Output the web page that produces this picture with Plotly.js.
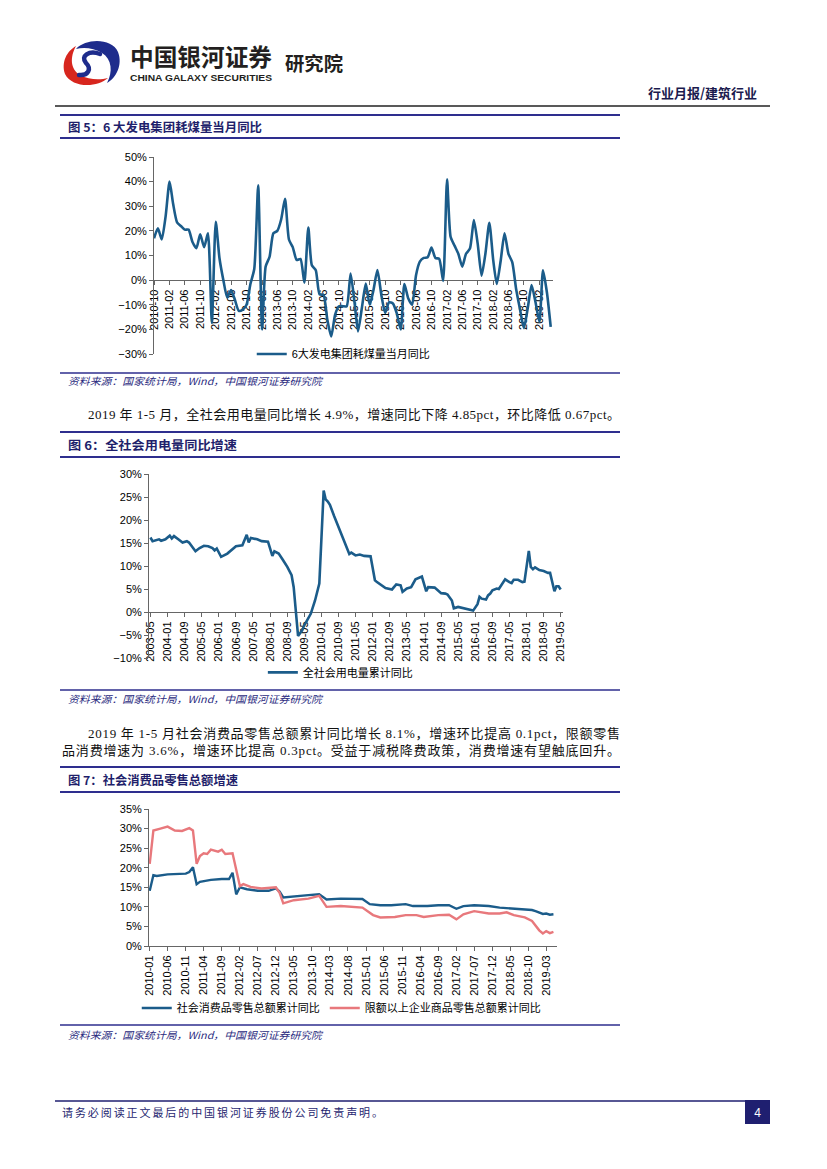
<!DOCTYPE html>
<html><head><meta charset="utf-8">
<script src="https://cdn.plot.ly/plotly-3.0.1.min.js"></script>
<style>
body{margin:0;background:#fff;}
#page{position:relative;width:827px;height:1169px;overflow:hidden;background:#fff;}
.chart{position:absolute;}
#bg{position:absolute;left:0;top:0;}
</style></head><body>
<div id="page">
<svg id="bg" width="827" height="1169" xmlns="http://www.w3.org/2000/svg">
  <!-- logo -->
  <g transform="translate(62,37)">
    <path d="M14 12 C24 1, 50 1, 56 15 C61 28, 54 41, 45 46 C51 35, 50 22, 40 16 C32 11, 22 10, 14 12 Z" fill="#1E2C8C"/>
    <path d="M46 41 C35 51, 10 51, 3 37 C-1 25, 5 14, 14 9 C8 20, 8 32, 18 38 C27 43, 38 43, 46 41 Z" fill="#D7261E"/>
    <path d="M38 17 C27 13, 18 19, 24 26 C30 32, 26 39, 17 38" fill="none" stroke="#1E2C8C" stroke-width="4.5" stroke-linecap="round"/>
  </g>
  <text x="130" y="66" font-family="Noto Sans CJK SC" font-weight="700" font-size="24" fill="#231F20" textLength="142" lengthAdjust="spacingAndGlyphs">中国银河证券</text>
  <text x="130" y="81" font-family="Liberation Sans" font-weight="700" font-size="9.5" fill="#231F20" textLength="142" lengthAdjust="spacingAndGlyphs">CHINA GALAXY SECURITIES</text>
  <text x="285" y="71" font-family="Noto Sans CJK SC" font-weight="700" font-size="19" fill="#231F20" textLength="58" lengthAdjust="spacingAndGlyphs">研究院</text>
  <text x="757" y="98" text-anchor="end" font-family="Noto Sans CJK SC" font-weight="700" font-size="13" fill="#1a1a4e">行业月报/建筑行业</text>
  <line x1="55" y1="106" x2="770" y2="106" stroke="#222" stroke-width="1.6"/>

  <!-- figure 5 header -->
  <line x1="60" y1="115" x2="620" y2="115" stroke="#2E2E8E" stroke-width="1.8"/>
  <text x="68" y="131.5" font-family="Noto Sans CJK SC" font-weight="700" font-size="12" fill="#1F1F6B" textLength="194" lengthAdjust="spacingAndGlyphs">图 5：6 大发电集团耗煤量当月同比</text>
  <line x1="60" y1="138" x2="620" y2="138" stroke="#2E2E8E" stroke-width="1.8"/>
  <line x1="60" y1="373" x2="620" y2="373" stroke="#2E2E8E" stroke-width="1.4"/>
  <text x="68" y="385" font-family="Noto Sans CJK SC" font-style="italic" font-size="10" fill="#2B2B80" textLength="254" lengthAdjust="spacingAndGlyphs">资料来源：国家统计局，Wind，中国银河证券研究院</text>

  <text x="88" y="419" font-family="Liberation Serif, Noto Sans CJK SC" font-size="13" fill="#111" textLength="532" lengthAdjust="spacing">2019 年 1-5 月，全社会用电量同比增长 4.9%，增速同比下降 4.85pct，环比降低 0.67pct。</text>

  <!-- figure 6 header -->
  <line x1="60" y1="432" x2="620" y2="432" stroke="#2E2E8E" stroke-width="1.8"/>
  <text x="68" y="449.5" font-family="Noto Sans CJK SC" font-weight="700" font-size="12" fill="#1F1F6B" textLength="169" lengthAdjust="spacingAndGlyphs">图 6：全社会用电量同比增速</text>
  <line x1="60" y1="457" x2="620" y2="457" stroke="#2E2E8E" stroke-width="1.8"/>
  <line x1="60" y1="690" x2="620" y2="690" stroke="#2E2E8E" stroke-width="1.4"/>
  <text x="68" y="703" font-family="Noto Sans CJK SC" font-style="italic" font-size="10" fill="#2B2B80" textLength="254" lengthAdjust="spacingAndGlyphs">资料来源：国家统计局，Wind，中国银河证券研究院</text>

  <text x="88" y="738" font-family="Liberation Serif, Noto Sans CJK SC" font-size="13" fill="#111" textLength="532" lengthAdjust="spacing">2019 年 1-5 月社会消费品零售总额累计同比增长 8.1%，增速环比提高 0.1pct，限额零售</text>
  <text x="62" y="755" font-family="Liberation Serif, Noto Sans CJK SC" font-size="13" fill="#111" textLength="558" lengthAdjust="spacing">品消费增速为 3.6%，增速环比提高 0.3pct。受益于减税降费政策，消费增速有望触底回升。</text>

  <!-- figure 7 header -->
  <line x1="60" y1="767" x2="620" y2="767" stroke="#2E2E8E" stroke-width="1.8"/>
  <text x="68" y="784.5" font-family="Noto Sans CJK SC" font-weight="700" font-size="12" fill="#1F1F6B" textLength="170" lengthAdjust="spacingAndGlyphs">图 7：社会消费品零售总额增速</text>
  <line x1="60" y1="792" x2="620" y2="792" stroke="#2E2E8E" stroke-width="1.8"/>
  <line x1="60" y1="1025" x2="620" y2="1025" stroke="#2E2E8E" stroke-width="1.4"/>
  <text x="68" y="1039" font-family="Noto Sans CJK SC" font-style="italic" font-size="10" fill="#2B2B80" textLength="254" lengthAdjust="spacingAndGlyphs">资料来源：国家统计局，Wind，中国银河证券研究院</text>

  <!-- footer -->
  <line x1="55" y1="1101" x2="745" y2="1101" stroke="#1F1F70" stroke-width="1.5"/>
  <text x="62" y="1117" font-family="Liberation Serif, Noto Sans CJK SC" font-size="11" fill="#1F1F70" textLength="321" lengthAdjust="spacing">请务必阅读正文最后的中国银河证券股份公司免责声明。</text>
  <rect x="745" y="1100" width="25" height="24" fill="#1F1F70"/>
  <text x="757.5" y="1116.5" text-anchor="middle" font-family="Liberation Sans" font-size="12" fill="#fff">4</text>
</svg>
<div id="c1" class="chart" style="left:60px;top:145px;width:560px;height:239px"></div>
<div id="c2" class="chart" style="left:60px;top:462px;width:560px;height:238px"></div>
<div id="c3" class="chart" style="left:60px;top:797px;width:560px;height:237px"></div>
</div>
<script>
// ---------- DATA ----------
// Figure 5: monthly, 2010-10 .. 2019-05
const coalStart = [2010, 10];
const coalYoY = [17, 21, 16.5, 26, 40, 31, 23.5, 22, 20.5, 20.5,
  15.5, 13, 18.6, 13.4, 19, -17.4, 23.7, 9, 0, -7,
  -4, -8, -12.5, -12, -10, -1.5, 4.5, 38.5, -20, 5.5,
  9.5, 19, 20, 24.5, 33, 16.5, 13.4, 8.2, 8.6, -1,
  21.4, 6, 4, -5.8, -6, -16, -22.9, -14, -10.6, -10.6,
  -10.6, 2.7, -9, -20.8, -11, -1.4, -10, -4, 4.1, -6,
  -13.3, -9, -9.5, -13.5, -20, -1.6, -7.5, -10, 2, 7.5,
  9, 9.3, 13.2, 9, 8.6, -0.3, 40.9, 17.6, 14, 10.7,
  5.5, 10.7, 12.8, 24.4, 14.8, 1.8, 10.7, 23.3, 8, -1.6,
  8, 19, 10.7, 7.3, -3.7, -12, -19.5, -11.2, -2, -9,
  -17, 4, -5, -19];
const coalName = '6大发电集团耗煤量当月同比';

// Figure 6
const powerDates = ['2003-05','2003-06','2003-09','2003-10','2003-12','2004-02','2004-03','2004-04','2004-06','2004-08',
  '2004-10','2004-11','2005-02','2005-04','2005-06','2005-08','2005-10','2005-11','2005-12','2006-02',
  '2006-05','2006-08','2006-09','2006-12','2007-02','2007-03','2007-04','2007-07','2007-09','2007-12',
  '2008-02','2008-03','2008-05','2008-07','2008-09','2008-11','2008-12','2009-02','2009-04','2009-05',
  '2009-08','2009-10','2009-12','2010-02','2010-03','2010-04','2010-05','2010-07','2010-09','2010-11',
  '2011-01','2011-02','2011-03','2011-05','2011-07','2011-09','2011-12','2012-02','2012-03','2012-05',
  '2012-07','2012-10','2012-12','2013-02','2013-03','2013-05','2013-07','2013-09','2013-11','2013-12',
  '2014-02','2014-03','2014-06','2014-07','2014-09','2014-11','2014-12','2015-02','2015-03','2015-05',
  '2015-07','2015-09','2015-10','2015-12','2016-02','2016-03','2016-04','2016-06','2016-07','2016-08',
  '2016-09','2016-11','2016-12','2017-02','2017-03','2017-05','2017-06','2017-07','2017-09','2017-11',
  '2017-12','2018-02','2018-03','2018-04','2018-05','2018-07','2018-09','2018-11','2018-12','2019-02',
  '2019-03','2019-04','2019-05'];
const powerYoY = [16.2, 15.4, 15.8, 15.5, 15.8, 16.6, 16, 16.5, 15.8, 15.1,
  15.4, 15.1, 13.2, 13.9, 14.4, 14.3, 13.9, 13.4, 13.8, 12,
  12.7, 13.8, 14.3, 14.5, 16.8, 15.1, 16.1, 15.8, 15.4, 15.3,
  12.2, 13.2, 12.7, 11.3, 9.8, 8, 5.4, -5.2, -4, -2.9,
  -0.4, 2.5, 6.2, 26.4, 24.5, 24, 23.3, 20.8, 18.5, 16,
  13.6, 12.6, 12.9, 12.3, 12.5, 12.2, 12.1, 6.9, 6.5, 5.8,
  5.2, 4.9, 6, 5.8, 4.4, 5.1, 5.4, 7.1, 7.6, 7.7,
  4.5, 5.4, 5.3, 4.9, 4.1, 4, 3.8, 2.5, 0.8, 1.1,
  0.9, 0.7, 0.6, 0.3, 1.7, 3.3, 2.9, 2.7, 3.6, 4,
  4.7, 5.1, 5, 6.3, 7.1, 6.5, 6.3, 7, 7, 6.5,
  6.6, 13.3, 9.8, 9.3, 9.7, 9.1, 8.9, 8.5, 8.5, 4.5,
  5.6, 5.6, 4.9];
const powerName = '全社会用电量累计同比';

// Figure 7
const retailDates = ['2010-01','2010-02','2010-03','2010-06','2010-11','2010-12','2011-01','2011-02','2011-03','2011-06',
  '2011-09','2011-11','2011-12','2012-01','2012-02','2012-04','2012-07','2012-10','2012-12','2013-01',
  '2013-02','2013-05','2013-09','2013-12','2014-01','2014-02','2014-06','2014-09','2014-12','2015-02',
  '2015-05','2015-08','2015-12','2016-02','2016-06','2016-09','2016-12','2017-02','2017-04','2017-07',
  '2017-11','2018-02','2018-05','2018-08','2018-11','2018-12','2019-02','2019-03','2019-04','2019-05'];
const retailYoY = [14.1, 18.1, 17.9, 18.3, 18.5, 18.9, 20.1, 15.8, 16.4, 16.9,
  17.1, 17.1, 18.7, 13.2, 15, 14.5, 14.1, 14.1, 14.7, 13.9,
  12.4, 12.7, 13, 13.2, 12.6, 11.9, 12.1, 12.1, 12, 10.7,
  10.4, 10.4, 10.7, 10.2, 10.2, 10.4, 10.4, 9.5, 10.2, 10.4,
  10.2, 9.8, 9.6, 9.4, 9.2, 8.9, 8.2, 8.3, 8, 8.1];
const retailName = '社会消费品零售总额累计同比';

const aboveDates = ['2010-01','2010-02','2010-04','2010-06','2010-08','2010-10','2010-12','2011-01','2011-02','2011-03',
  '2011-04','2011-05','2011-06','2011-08','2011-09','2011-10','2011-12','2012-02','2012-03','2012-05',
  '2012-08','2012-12','2013-01','2013-02','2013-05','2013-09','2013-12','2014-02','2014-06','2014-09',
  '2014-12','2015-03','2015-05','2015-09','2015-12','2016-03','2016-05','2016-09','2016-12','2017-02',
  '2017-04','2017-07','2017-11','2018-02','2018-04','2018-06','2018-09','2018-11','2018-12','2019-01',
  '2019-02','2019-03','2019-04','2019-05'];
const aboveYoY = [21, 29.5, 30, 30.5, 29.5, 29.4, 30.1, 29.5, 21, 23,
  23.7, 23.5, 24.6, 24.1, 24.6, 23.5, 23.7, 15.3, 15.8, 15.1,
  14.7, 15, 13.6, 10.9, 11.7, 12.1, 12.8, 10, 10.2, 10,
  9.8, 7.9, 7.3, 7.4, 7.9, 7.9, 7.4, 7.9, 8, 6.8,
  8.1, 8.9, 8.3, 8.3, 8.6, 7.9, 7.3, 6.4, 5.3, 4,
  3.2, 3.8, 3.3, 3.6];
const aboveName = '限额以上企业商品零售总额累计同比';

// ---------- helpers ----------
function monthSeq(start, n) {
  const out = [];
  let y = start[0], m = start[1];
  for (let i = 0; i < n; i++) {
    out.push(y + '-' + String(m).padStart(2, '0') + '-01');
    m++; if (m > 12) { m = 1; y++; }
  }
  return out;
}
const FONT = 'Liberation Sans, Arial, Noto Sans CJK SC, sans-serif';
const BLUE = '#1B5C8A';
const RED = '#E8787C';
const AX = '#666';

function yAxis(range, dtick) {
  return {range: range, dtick: dtick, tick0: 0, ticksuffix: '%', showgrid: false, zeroline: false,
    showline: true, linecolor: AX, linewidth: 1, ticks: 'outside', ticklen: 4, tickcolor: AX,
    tickfont: {family: FONT, size: 11, color: '#000'}, automargin: false, fixedrange: true};
}
function xAxis(range, tick0, dtick, extra) {
  return Object.assign({type: 'date', range: range, tick0: tick0, dtick: dtick, tickformat: '%Y-%m',
    tickangle: -90, showgrid: false, zeroline: false, showline: true, linecolor: AX, linewidth: 1,
    ticks: 'outside', ticklen: 4, tickcolor: AX, layer: 'below traces',
    tickfont: {family: FONT, size: 11, color: '#000'}, automargin: false, fixedrange: true}, extra || {});
}
const cfg = {displayModeBar: false, staticPlot: true};

// ---------- Figure 5 ----------
Plotly.newPlot('c1', [{
  x: monthSeq(coalStart, coalYoY.length), y: coalYoY, name: coalName, type: 'scatter', mode: 'lines',
  line: {color: BLUE, width: 2.6, shape: 'spline', smoothing: 0.6}
}], {
  width: 560, height: 239, margin: {l: 94, r: 67, t: 12, b: 30},
  paper_bgcolor: 'rgba(0,0,0,0)', plot_bgcolor: 'rgba(0,0,0,0)',
  xaxis: xAxis(['2010-10-01', '2019-05-19'], '2010-10-01', 'M4', {anchor: 'free', position: 0.375}),
  yaxis: yAxis([-30, 50], 10),
  showlegend: true,
  legend: {orientation: 'h', x: 0.245, xanchor: 'left', y: 0, yanchor: 'middle', bgcolor: 'rgba(0,0,0,0)',
    font: {family: FONT, size: 11, color: '#000'}}
}, cfg);

// ---------- Figure 6 ----------
Plotly.newPlot('c2', [{
  x: powerDates, y: powerYoY, name: powerName, type: 'scatter', mode: 'lines',
  line: {color: BLUE, width: 2.6}
}], {
  width: 560, height: 238, margin: {l: 89, r: 57, t: 12, b: 42},
  paper_bgcolor: 'rgba(0,0,0,0)', plot_bgcolor: 'rgba(0,0,0,0)',
  xaxis: xAxis(['2003-04-11', '2019-06-03'], '2003-05-01', 'M8', {anchor: 'free', position: 0.25}),
  yaxis: yAxis([-10, 30], 5),
  showlegend: true,
  legend: {orientation: 'h', x: 0.275, xanchor: 'left', y: -0.078, yanchor: 'middle', bgcolor: 'rgba(0,0,0,0)',
    font: {family: FONT, size: 11, color: '#000'}}
}, cfg);

// ---------- Figure 7 ----------
Plotly.newPlot('c3', [{
  x: retailDates, y: retailYoY, name: retailName, type: 'scatter', mode: 'lines',
  line: {color: BLUE, width: 2.4}
}, {
  x: aboveDates, y: aboveYoY, name: aboveName, type: 'scatter', mode: 'lines',
  line: {color: RED, width: 2.4}
}], {
  width: 560, height: 237, margin: {l: 89, r: 63, t: 12, b: 88},
  paper_bgcolor: 'rgba(0,0,0,0)', plot_bgcolor: 'rgba(0,0,0,0)',
  xaxis: xAxis(['2009-12-26', '2019-05-31'], '2010-01-01', 'M5'),
  yaxis: yAxis([0, 35], 5),
  showlegend: true,
  legend: {orientation: 'h', x: -0.03, xanchor: 'left', y: -0.453, yanchor: 'middle', bgcolor: 'rgba(0,0,0,0)',
    font: {family: FONT, size: 11, color: '#000'}}
}, cfg);
</script>
</body></html>
